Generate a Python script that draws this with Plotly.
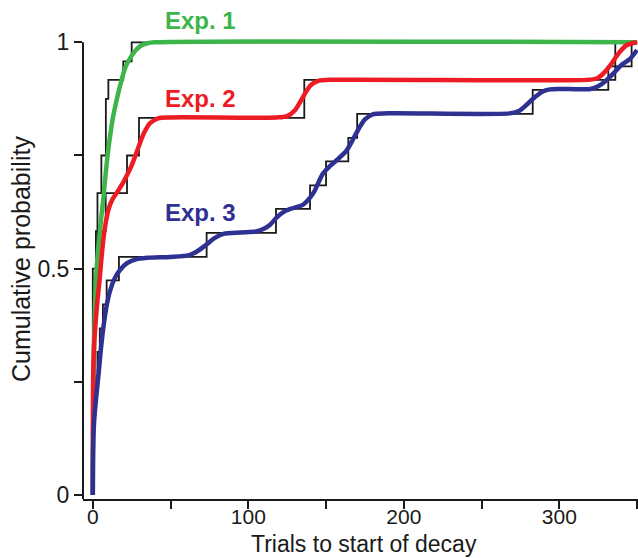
import plotly.graph_objects as go

# ---------------- data ----------------
# Empirical cumulative distributions (step functions, black)
exp1_step_x = [0, 0, 2, 3, 5.5, 8.4, 10, 19.6, 25, 350]
exp1_step_y = [0, 0.5, 0.583, 0.667, 0.75, 0.875, 0.917, 0.958, 1.0, 1.0]

exp2_step_x = [0, 0, 1, 2, 3, 8.3, 22, 29.7, 136, 336, 350]
exp2_step_y = [0, 0.333, 0.417, 0.5, 0.583, 0.667, 0.75, 0.833, 0.917, 1.0, 1.0]

exp3_step_x = [0, 0, 0.5, 1, 2, 3, 4.5, 6.5, 8.9, 16.8, 73.2, 117.8, 139.7,
               150, 164.3, 170, 282.9, 331.5, 346.5, 350]
exp3_step_y = [0, 0.105, 0.158, 0.211, 0.263, 0.316, 0.368, 0.421, 0.474, 0.526,
               0.579, 0.632, 0.684, 0.737, 0.789, 0.842, 0.895, 0.947, 1.0, 1.0]

# Smooth fitted curves (coloured)
exp1_fit_x = [0, 0.3, 0.8, 1.5, 2.5, 3.5, 4.5, 5.5, 6.8, 8, 9.5, 11, 13, 15.5,
              18, 21, 24, 27, 31, 35, 40, 350]
exp1_fit_y = [0, 0.2, 0.33, 0.43, 0.5, 0.545, 0.58, 0.615, 0.655, 0.7, 0.75, 0.79,
              0.835, 0.875, 0.91, 0.945, 0.965, 0.98, 0.993, 0.998, 1.0, 1.0]

exp2_fit_x = [0, 0.3, 1, 2, 3, 4.2, 5.5, 6.8, 8.5, 10.5, 12.5, 15.5, 19.5, 22.5,
              25, 29, 33, 37, 42, 50, 118, 125, 130, 135, 140, 145, 152, 318,
              324, 328, 333, 338, 343, 350]
exp2_fit_y = [0, 0.27, 0.34, 0.39, 0.43, 0.47, 0.52, 0.565, 0.605, 0.635, 0.652,
              0.668, 0.69, 0.71, 0.728, 0.765, 0.8, 0.822, 0.832, 0.834, 0.834,
              0.837, 0.85, 0.878, 0.905, 0.915, 0.917, 0.917, 0.92, 0.93, 0.95,
              0.975, 0.993, 1.0]

exp3_fit_x = [0, 0.2, 0.8, 2, 3.5, 5, 6.8, 9, 11, 14, 17.5, 22, 27, 35, 50, 62,
              67, 73, 78, 84, 95, 105, 110, 114, 118, 122, 127, 131, 135, 138,
              142, 148, 153, 157, 163, 168, 172, 175, 180, 190, 268, 274, 279,
              284, 289, 294, 300, 320, 325, 330, 335, 340, 345, 350]
exp3_fit_y = [0, 0.1, 0.16, 0.21, 0.26, 0.315, 0.37, 0.42, 0.45, 0.478, 0.497,
              0.512, 0.52, 0.524, 0.526, 0.53, 0.538, 0.553, 0.567, 0.577, 0.58,
              0.582, 0.588, 0.597, 0.612, 0.624, 0.632, 0.636, 0.641, 0.65, 0.668,
              0.71, 0.728, 0.74, 0.76, 0.79, 0.815, 0.83, 0.841, 0.843, 0.843,
              0.848, 0.862, 0.878, 0.891, 0.896, 0.897, 0.897, 0.903, 0.915,
              0.932, 0.95, 0.962, 0.983]

series_names = ["Exp. 1", "Exp. 2", "Exp. 3"]
series_colors = ["#3DB54A", "#ED1C24", "#2E3192"]

x_tick_vals = [0, 50, 100, 150, 200, 250, 300, 350]
x_tick_text = ["0", "", "100", "", "200", "", "300", ""]
y_tick_vals = [0, 0.25, 0.5, 0.75, 1]
y_tick_text = ["0", "", "0.5", "", "1"]

x_title = "Trials to start of decay"
y_title = "Cumulative probability"

# ---------------- figure ----------------
FONT = "Liberation Sans, Arial, sans-serif"
fig = go.Figure()

steps = [(exp1_step_x, exp1_step_y), (exp2_step_x, exp2_step_y), (exp3_step_x, exp3_step_y)]
fits = [(exp1_fit_x, exp1_fit_y), (exp2_fit_x, exp2_fit_y), (exp3_fit_x, exp3_fit_y)]

for (sx, sy) in steps:
    fig.add_trace(go.Scatter(x=sx, y=sy, mode="lines", line=dict(color="#1a1a1a", width=1.8, shape="hv"),
                             showlegend=False, hoverinfo="skip"))

for (fx, fy), name, col in zip(fits, series_names, series_colors):
    fig.add_trace(go.Scatter(x=fx, y=fy, mode="lines", name=name,
                             line=dict(color=col, width=4.5, shape="spline", smoothing=0.8),
                             showlegend=False))

# series labels (paper coordinates so they may sit above the plot area)
label_y = [1.035, 0.866, 0.620]
for name, col, ly in zip(series_names, series_colors, label_y):
    fig.add_annotation(x=0.2126, y=ly, xref="paper", yref="paper", text="<b>%s</b>" % name,
                       showarrow=False, font=dict(family=FONT, size=24, color=col),
                       xanchor="center", yanchor="middle")

# axis titles
fig.add_annotation(x=0.506, y=-0.097, xref="paper", yref="paper", text=x_title, showarrow=False,
                   font=dict(family=FONT, size=23, color="#1a1a1a"), xanchor="center", yanchor="middle")
fig.add_annotation(x=-0.112, y=0.519, xref="paper", yref="paper", text=y_title, showarrow=False,
                   textangle=-90, font=dict(family=FONT, size=25, color="#1a1a1a"),
                   xanchor="center", yanchor="middle")

# y axis line (ends at y = 1)
fig.add_shape(type="line", xref="paper", yref="y", x0=0, x1=0, y0=-0.0088, y1=1.0,
              line=dict(color="#1a1a1a", width=2))

fig.update_layout(
    width=638, height=558,
    margin=dict(l=83, r=0, t=37, b=59),
    paper_bgcolor="white", plot_bgcolor="white",
    font=dict(family=FONT, size=23, color="#1a1a1a"),
    xaxis=dict(range=[-6.3, 350.6], tickvals=x_tick_vals, ticktext=x_tick_text,
               showgrid=False, zeroline=False, showline=True, linecolor="#1a1a1a", linewidth=2,
               ticks="outside", ticklen=8, tickwidth=2, tickcolor="#1a1a1a",
               ticklabelstandoff=-10,
               tickfont=dict(family=FONT, size=21)),
    yaxis=dict(range=[-0.0088, 1.0117], tickvals=y_tick_vals, ticktext=y_tick_text,
               showgrid=False, zeroline=False, showline=False,
               ticks="outside", ticklen=8, tickwidth=2, tickcolor="#1a1a1a",
               tickfont=dict(family=FONT, size=23)),
)

fig.write_html("out.html")
